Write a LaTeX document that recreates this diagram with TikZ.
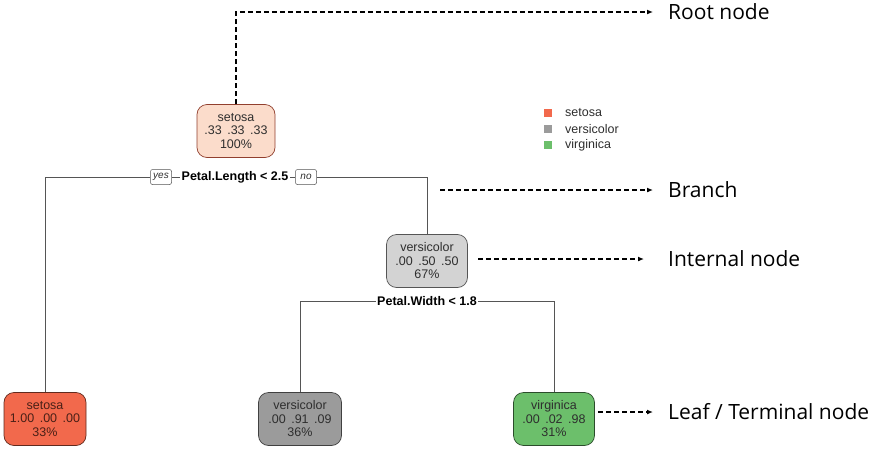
\documentclass[tikz,border=0pt]{standalone}
\usepackage{fontspec}
\setmainfont{Liberation Sans}
\newfontfamily\notefont{Open Sans}
\usepackage{tikz}
\usetikzlibrary{
  arrows.meta,
  positioning,
  calc
}
\definecolor{dtSetosa}{HTML}{F2694C}
\definecolor{dtSetosaLt}{HTML}{FBDCCB}
\definecolor{dtVersi}{HTML}{9B9B9B}
\definecolor{dtVersiLt}{HTML}{D3D3D3}
\definecolor{dtVirgi}{HTML}{6CBF6B}
\definecolor{dtLine}{HTML}{555555}
\definecolor{dtText}{HTML}{2E2E2E}
\tikzset{
  dtnode/.style={
    draw, rounded corners=10pt, minimum height=53pt, minimum width=80pt,
    font=\fontsize{12.5}{13.5}\selectfont, align=center, text=dtText, line width=0.7pt
  },
  rootbox/.style={dtnode, fill=dtSetosaLt, draw=dtSetosa!60!black, minimum width=78pt},
  innerbox/.style={dtnode, fill=dtVersiLt, draw=dtLine, minimum width=81pt},
  setosaleaf/.style={dtnode, fill=dtSetosa, draw=dtSetosa!40!black, text=dtSetosa!30!black, minimum width=82pt},
  versileaf/.style={dtnode, fill=dtVersi, draw=black!75, minimum width=83pt},
  virgileaf/.style={dtnode, fill=dtVirgi, draw=dtVirgi!40!black, minimum width=81pt},
  splittag/.style={font=\fontsize{12.5}{13.5}\selectfont\bfseries, inner sep=1.5pt},
  yesno/.style={draw=dtLine, rounded corners=2pt, font=\fontsize{10}{10}\selectfont\itshape,
    minimum width=21pt, minimum height=15pt, inner sep=1pt, text=dtText, line width=0.5pt},
  branchline/.style={dtLine, line width=0.8pt},
  annot/.style={-{Latex[length=6pt,width=5pt]}, line width=1.5pt, dash pattern=on 5pt off 3pt},
  notelabel/.style={font=\notefont\fontsize{21}{21}\selectfont, anchor=west, inner sep=0pt,
    text height=15pt, text depth=0pt},
  keybox/.style={minimum size=8pt, inner sep=0pt},
  keytext/.style={font=\fontsize{12.5}{13}\selectfont, text=dtText, anchor=west, inner sep=0pt}
}
\begin{document}
\begin{tikzpicture}[x=1pt, y=-1pt]
  \useasboundingbox (0,0) rectangle (870,450);
  % tree
  \node[rootbox] (root) at (236,131) {setosa\\.33\, .33\, .33\\100\%};
  \node[splittag] (split1) at (235,177) {Petal.Length < 2.5};
  \node[yesno] (yes) at (161,177) {yes};
  \node[yesno] (no) at (306,177) {no};
  \node[innerbox] (intnode) at (427,261) {versicolor\\.00\, .50\, .50\\67\%};
  \node[splittag] (split2) at (427,301) {Petal.Width < 1.8};
  \node[setosaleaf] (leafA) at (45,419) {setosa\\1.00\, .00\, .00\\33\%};
  \node[versileaf] (leafB) at (300,419) {versicolor\\.00\, .91\, .09\\36\%};
  \node[virgileaf] (leafC) at (554,419) {virginica\\.00\, .02\, .98\\31\%};
  \draw[branchline] (leafA.north) |- (yes.west);
  \draw[branchline] (yes.east) -- (split1.west);
  \draw[branchline] (split1.east) -- (no.west);
  \draw[branchline] (no.east) -| (intnode.north);
  \draw[branchline] (leafB.north) |- (split2.west);
  \draw[branchline] (split2.east) -| (leafC.north);
  % legend
  \foreach \y/\col/\name in {113/dtSetosa/setosa,129/dtVersi/versicolor,145/dtVirgi/virginica}{
    \node[keybox, fill=\col] (key\name) at (548,\y) {};
    \node[keytext] (keytxt\name) at (565,\y) {\name};
  }
  % annotations
  \node[notelabel] (rootlbl) at (668,12) {Root node};
  \node[notelabel] (branchlbl) at (668,190) {Branch};
  \node[notelabel] (innerlbl) at (668,259) {Internal node};
  \node[notelabel] (leaflbl) at (668,412) {Leaf / Terminal node};
  \coordinate (brfrom) at (440,190);
  \coordinate (infrom) at (478,259);
  \coordinate (lffrom) at (598,412);
  \draw[annot, shorten >=15pt] (root.north) |- (rootlbl.west);
  \draw[annot, shorten >=15pt] (brfrom) -- (branchlbl.west);
  \draw[annot, shorten >=24pt] (infrom) -- (innerlbl.west);
  \draw[annot, shorten >=15pt] (lffrom) -- (leaflbl.west);
\end{tikzpicture}
\end{document}
